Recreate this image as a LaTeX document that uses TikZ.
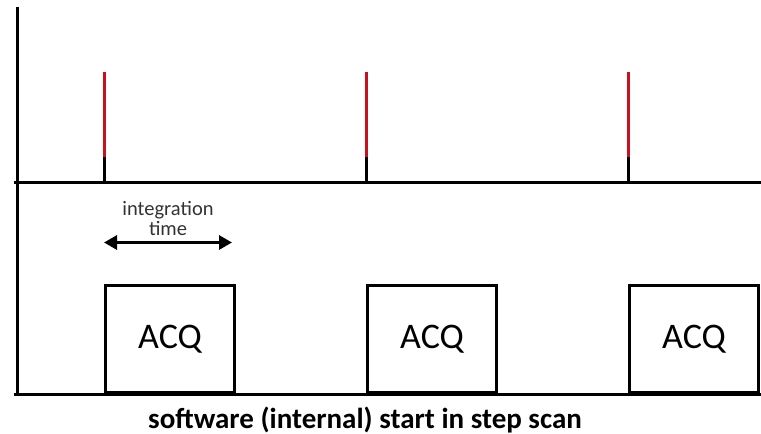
\documentclass[tikz,border=0pt]{standalone}
\usepackage{fontspec}
\setmainfont{Carlito}
\usetikzlibrary{arrows.meta}
\begin{document}
\begin{tikzpicture}[x=1pt,y=-1pt,
  axis/.style={line width=3pt},
  trig/.style={line width=3pt, draw=trigred},
  acqbox/.style={draw, line width=3pt, minimum width=129pt, minimum height=107.5pt, anchor=south west, inner sep=0pt, font=\fontsize{36}{40}\selectfont},
  lbl/.style={font=\fontsize{20.5}{19.5}\selectfont, text=black!80, align=center, inner sep=0pt, anchor=base},
  capt/.style={font=\fontsize{29}{32}\selectfont\bfseries, inner sep=0pt, anchor=base}
]
\definecolor{trigred}{RGB}{200,16,30}
\useasboundingbox (0,0) rectangle (761,434);
% axes
\coordinate (ytop) at (17,7);
\coordinate (ybot) at (17,396);
\coordinate (tl) at (14,182);
\coordinate (tr) at (761,182);
\coordinate (bl) at (14,394);
\coordinate (br) at (761,394);
\draw[axis] (ytop) -- (ybot);
\draw[axis] (tl) -- (tr);
\draw[axis] (bl) -- (br);
% trigger pulses
\foreach \n/\x in {1/104,2/366,3/628}{
  \coordinate (p\n top) at (\x,72);
  \coordinate (p\n mid) at (\x,157);
  \coordinate (p\n bot) at (\x,182);
  \draw[trig] (p\n top) -- (p\n mid);
  \draw[axis] (p\n mid) -- (p\n bot);
}
% acquisition windows
\node[acqbox] (acq1) at (104,394) {ACQ};
\node[acqbox] (acq2) at (366,394) {ACQ};
\node[acqbox] (acq3) at (628,394) {ACQ};
% integration time marker
\coordinate (al) at (104,242.5);
\coordinate (ar) at (232,242.5);
\draw[line width=3pt, {Triangle[width=14pt,length=13pt]}-{Triangle[width=14pt,length=13pt]}] (al) -- (ar);
\node[lbl] (itime1) at (168,215.5) {integration};
\node[lbl] (itime2) at (168,235) {time};
% caption
\node[capt] (cap) at (365,428) {software (internal) start in step scan};
\end{tikzpicture}
\end{document}
